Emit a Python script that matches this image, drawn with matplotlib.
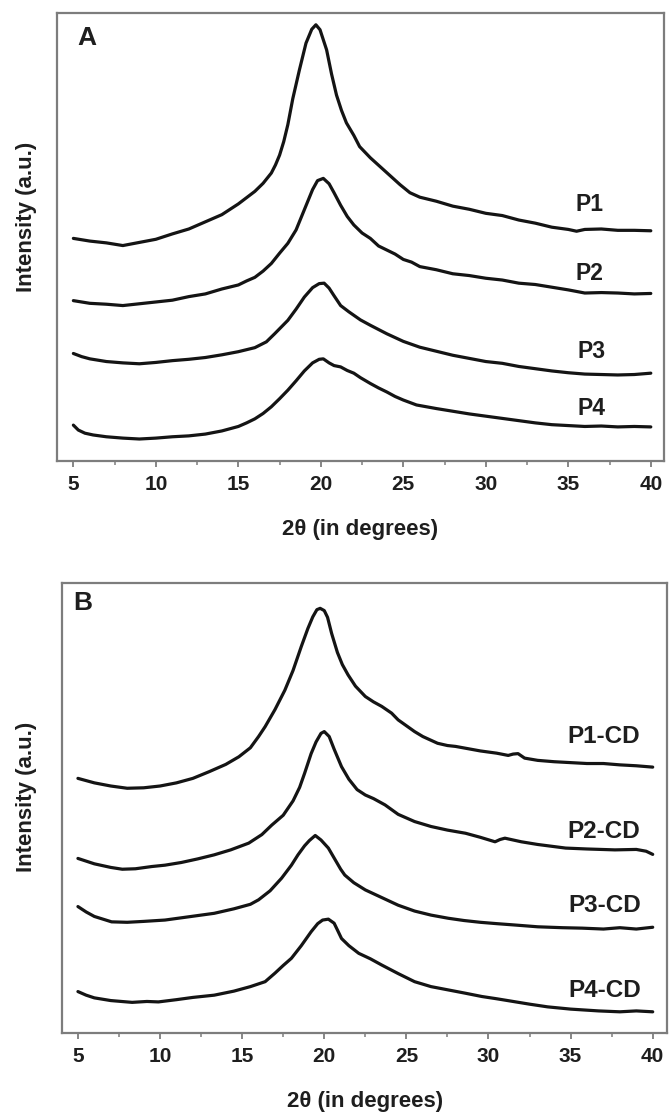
import matplotlib
matplotlib.use("Agg")
import matplotlib.pyplot as plt
from matplotlib.ticker import MultipleLocator

plt.rcParams['font.family'] = ['Liberation Sans', 'DejaVu Sans']
plt.rcParams['font.weight'] = 'bold'

# ---- Panel A: polymer films (2-theta in degrees, intensity in a.u.) ----
p1_x = [5, 6, 7, 8, 9, 10, 11, 12, 13, 14, 15, 16, 16.5, 17, 17.25, 17.5, 17.75, 18, 18.3,
        18.7, 19.1, 19.45, 19.7, 19.95, 20.35, 20.65, 20.95, 21.25, 21.55, 22.0, 22.35, 23.0,
        23.6, 24.2, 24.8, 25.4, 26.0, 27.0, 28.0, 29.0, 30.0, 31.0, 32.0, 33.0, 34.0, 35.0,
        35.5, 36.0, 37.0, 38.0, 39.0, 40.0]
p1_y = [49.6, 49.0, 48.6, 48.0, 48.7, 49.4, 50.6, 51.7, 53.3, 54.9, 57.3, 60.1, 61.9, 64.2,
        66.0, 68.2, 71.2, 75.0, 80.8, 87.2, 93.2, 96.3, 97.3, 96.2, 91.7, 86.3, 81.6, 78.2,
        75.4, 72.6, 70.1, 67.6, 65.6, 63.6, 61.6, 59.8, 58.8, 57.9, 56.8, 56.1, 55.2, 54.7,
        53.7, 53.0, 52.1, 51.6, 51.2, 51.6, 51.7, 51.4, 51.4, 51.3]

p2_x = [5, 6, 7, 8, 9, 10, 11, 12, 13, 14, 15, 15.5, 16, 16.5, 17, 17.5, 18, 18.5, 19,
        19.5, 19.8, 20.15, 20.5, 20.8, 21.2, 21.6, 22.0, 22.5, 23.0, 23.5, 24.0, 24.5, 25.0,
        25.5, 26.0, 27.0, 28.0, 29.0, 30.0, 31.0, 32.0, 33.0, 34.0, 35.0, 36.0, 37.0, 38.0,
        39.0, 40.0]
p2_y = [35.7, 35.1, 34.9, 34.6, 35.0, 35.4, 35.8, 36.6, 37.2, 38.3, 39.2, 40.1, 40.9, 42.3,
        44.0, 46.3, 48.5, 51.5, 56.0, 60.5, 62.5, 63.0, 61.8, 59.8, 57.0, 54.5, 52.6, 50.8,
        49.6, 47.9, 47.0, 46.1, 44.9, 44.3, 43.3, 42.6, 41.7, 41.3, 40.7, 40.3, 39.6, 39.3,
        38.7, 38.1, 37.4, 37.5, 37.4, 37.2, 37.3]

p3_x = [5, 5.5, 6, 7, 8, 9, 10, 11, 12, 13, 14, 15, 16, 16.7, 17.2, 17.6, 18, 18.5, 19,
        19.5, 19.9, 20.2, 20.5, 20.8, 21.2, 21.7, 22.4, 23, 24, 25, 26, 27, 28, 29, 30, 31,
        32, 33, 34, 35, 36, 37, 38, 39, 40]
p3_y = [23.9, 23.2, 22.7, 22.1, 21.8, 21.6, 21.9, 22.3, 22.6, 23.0, 23.6, 24.3, 25.2, 26.5,
        28.3, 29.8, 31.3, 33.8, 36.5, 38.6, 39.5, 39.6, 38.5, 36.8, 34.6, 33.2, 31.4, 30.2,
        28.3, 26.6, 25.3, 24.4, 23.5, 22.8, 22.1, 21.7, 21.0, 20.5, 20.0, 19.6, 19.3, 19.2,
        19.1, 19.2, 19.5]

p4_x = [5, 5.3, 5.7, 6.2, 7, 8, 9, 10, 11, 12, 13, 14, 15, 15.5, 16, 16.5, 17, 17.5, 18,
        18.5, 19, 19.5, 19.9, 20.15, 20.5, 20.8, 21.2, 21.6, 22, 22.4, 23, 23.5, 24, 24.5,
        25, 25.8, 27, 28, 29, 30, 31, 32, 33, 34, 35, 36, 37, 38, 39, 40]
p4_y = [7.9, 6.8, 6.1, 5.7, 5.3, 5.0, 4.8, 5.0, 5.3, 5.5, 5.9, 6.6, 7.6, 8.4, 9.3, 10.5,
        12.0, 13.8, 15.7, 17.8, 20.0, 21.8, 22.6, 22.7, 21.8, 21.2, 20.9, 20.1, 19.5, 18.5,
        17.2, 16.2, 15.3, 14.3, 13.5, 12.4, 11.6, 11.0, 10.4, 9.9, 9.4, 8.9, 8.4, 8.0, 7.8,
        7.6, 7.7, 7.5, 7.6, 7.5]

labels_a = ['P1', 'P2', 'P3', 'P4']
label_a_x = [36.3, 36.3, 36.4, 36.4]
label_a_y = [57.1, 41.8, 24.3, 11.6]

# ---- Panel B: cyclodextrin-loaded films ----
p1cd_x = [5, 6, 7, 8, 9, 10, 11, 12, 13, 14, 14.8, 15.5, 16, 16.4, 17, 17.6, 18.1, 18.6,
          19.0, 19.3, 19.55, 19.75, 20.0, 20.2, 20.45, 20.8, 21.1, 21.45, 21.9, 22.5, 23.0,
          23.5, 24.1, 24.5, 25, 25.5, 26, 26.9, 27.5, 28.0, 28.6, 29.5, 30.5, 31.2, 31.5,
          31.8, 32.2, 33.0, 34, 35, 36, 37, 38, 39, 40]
p1cd_y = [56.5, 55.5, 54.8, 54.3, 54.4, 54.8, 55.5, 56.5, 58.0, 59.6, 61.3, 63.3, 65.8, 68.0,
          71.8, 76.1, 80.5, 85.8, 89.8, 92.4, 94.0, 94.3, 93.8, 92.3, 88.7, 84.5, 81.8, 79.5,
          77.0, 74.7, 73.5, 72.5, 71.0, 69.5, 68.2, 66.9, 65.8, 64.3, 63.8, 63.6, 63.2, 62.6,
          62.1, 61.6, 61.9, 62.0, 61.0, 60.5, 60.2, 60.0, 59.8, 59.8, 59.5, 59.3, 59.0]

p2cd_x = [5, 6, 7, 7.7, 8.5, 9.5, 10.3, 11.3, 12.3, 13.3, 14.3, 15.4, 16.2, 16.8, 17.5, 18.1,
          18.5, 18.8, 19.2, 19.5, 19.8, 20.0, 20.3, 20.6, 21.05, 21.5, 22.0, 22.5, 23.0, 23.7,
          24.5, 25.5, 26.5, 27.5, 28.6, 29.5, 30.4, 30.7, 31.0, 32, 33, 34.7, 36, 37.7, 39,
          39.6, 40]
p2cd_y = [38.7, 37.5, 36.7, 36.3, 36.4, 36.9, 37.2, 37.8, 38.6, 39.5, 40.6, 42.1, 44.0, 46.1,
          48.3, 51.5, 54.5, 57.6, 62.0, 64.6, 66.5, 66.9, 65.8, 63.0, 59.1, 56.3, 54.0, 52.8,
          52.0, 50.6, 48.5, 46.9, 45.8, 45.0, 44.3, 43.4, 42.4, 42.9, 43.2, 42.4, 41.8, 41.0,
          40.8, 40.6, 40.7, 40.3, 39.6]

p3cd_x = [5, 5.5, 6, 7.05, 8, 9, 10.3, 11.5, 12.5, 13.3, 14.5, 15.5, 16.0, 16.7, 17.4, 18.0,
          18.4, 18.8, 19.1, 19.45, 19.8, 20.25, 20.6, 21.0, 21.25, 21.8, 22.5, 23.5, 24.5,
          25.5, 26.5, 27.55, 28.5, 29.5, 30.5, 31.6, 33, 34.5, 35.7, 37, 38, 39, 40]
p3cd_y = [28.0, 26.8, 25.8, 24.6, 24.5, 24.7, 25.0, 25.6, 26.1, 26.5, 27.5, 28.5, 29.5, 31.5,
          34.3, 37.2, 39.5, 41.5, 42.7, 43.8, 42.8, 41.0, 38.8, 36.3, 35.0, 33.3, 31.7, 30.0,
          28.3, 27.0, 26.1, 25.4, 24.9, 24.5, 24.2, 23.9, 23.5, 23.3, 23.2, 23.0, 23.3, 23.0,
          23.4]

p4cd_x = [5, 5.5, 6, 7, 8.3, 9.2, 9.9, 11, 12, 13.3, 14.5, 15.5, 16.4, 17.0, 17.5, 18.0,
          18.6, 19.2, 19.6, 19.9, 20.25, 20.6, 20.8, 21.05, 21.5, 22.1, 22.8, 23.5, 24.5,
          25.5, 26.5, 27.5, 28.5, 29.6, 30.5, 31.5, 32.5, 33.6, 35, 36.7, 38, 39, 40]
p4cd_y = [9.1, 8.3, 7.7, 7.1, 6.7, 6.9, 6.8, 7.3, 7.8, 8.3, 9.2, 10.2, 11.3, 13.2, 14.9,
          16.5, 19.3, 22.4, 24.2, 25.0, 25.2, 24.3, 22.8, 20.9, 19.3, 17.6, 16.4, 15.0, 13.1,
          11.3, 10.2, 9.5, 8.8, 8.0, 7.5, 6.9, 6.3, 5.7, 5.2, 4.8, 4.6, 4.8, 4.6]

labels_b = ['P1-CD', 'P2-CD', 'P3-CD', 'P4-CD']
label_b_x = [37.0, 37.0, 37.1, 37.1]
label_b_y = [65.8, 44.6, 28.3, 9.4]

xticks = [5, 10, 15, 20, 25, 30, 35, 40]

W, H = 669, 1117
fig = plt.figure(figsize=(W / 100, H / 100), dpi=100)

spine_col = '#7d7d7d'
text_col = '#1e1e1e'
line_col = '#141414'


def px_axes(left, right, top, bottom):
    return fig.add_axes([left / W, 1 - bottom / H, (right - left) / W, (bottom - top) / H])


def style(ax, xlim):
    ax.set_xlim(*xlim)
    ax.set_ylim(0, 100)
    ax.set_yticks([])
    ax.set_xticks(xticks)
    ax.xaxis.set_minor_locator(MultipleLocator(2.5))
    for s in ax.spines.values():
        s.set_color(spine_col)
        s.set_linewidth(1.6)
    ax.tick_params(axis='x', which='major', direction='out', length=4.5, width=1.3,
                   color=spine_col, labelsize=15, labelcolor=text_col, pad=6)
    ax.tick_params(axis='x', which='minor', direction='out', length=3, width=1.1,
                   color=spine_col)
    for lab in ax.get_xticklabels():
        lab.set_fontweight('bold')


axA = px_axes(56.7, 664, 12.7, 460.5)
style(axA, (3.99, 40.8))
for xs, ys in [(p1_x, p1_y), (p2_x, p2_y), (p3_x, p3_y), (p4_x, p4_y)]:
    axA.plot(xs, ys, color=line_col, lw=2.3, solid_joinstyle='round',
             solid_capstyle='round')
for lab, lx, ly in zip(labels_a, label_a_x, label_a_y):
    axA.text(lx, ly, lab, ha='center', va='center', fontsize=16.5,
             fontweight='bold', color=text_col)
axA.text(0.049, 0.943, 'A', transform=axA.transAxes, ha='center', va='center',
         fontsize=19, fontweight='bold', color=text_col)

axB = px_axes(62, 667, 582.7, 1032.5)
style(axB, (4.03, 40.87))
for xs, ys in [(p1cd_x, p1cd_y), (p2cd_x, p2cd_y), (p3cd_x, p3cd_y), (p4cd_x, p4cd_y)]:
    axB.plot(xs, ys, color=line_col, lw=2.3, solid_joinstyle='round',
             solid_capstyle='round')
for lab, lx, ly in zip(labels_b, label_b_x, label_b_y):
    axB.text(lx, ly, lab, ha='center', va='center', fontsize=17.5,
             fontweight='bold', color=text_col)
axB.text(0.035, 0.954, 'B', transform=axB.transAxes, ha='center', va='center',
         fontsize=19, fontweight='bold', color=text_col)

# axis titles
fig.text(360 / W, 1 - 530 / H, '2θ (in degrees)', ha='center', va='center',
         fontsize=16, fontweight='bold', color=text_col)
fig.text(365 / W, 1 - 1102 / H, '2θ (in degrees)', ha='center', va='center',
         fontsize=16, fontweight='bold', color=text_col)
fig.text(27 / W, 1 - 217 / H, 'Intensity (a.u.)', ha='center', va='center',
         rotation=90, fontsize=16, fontweight='bold', color=text_col)
fig.text(27 / W, 1 - 797 / H, 'Intensity (a.u.)', ha='center', va='center',
         rotation=90, fontsize=16, fontweight='bold', color=text_col)

fig.savefig('out.png', dpi=100)
